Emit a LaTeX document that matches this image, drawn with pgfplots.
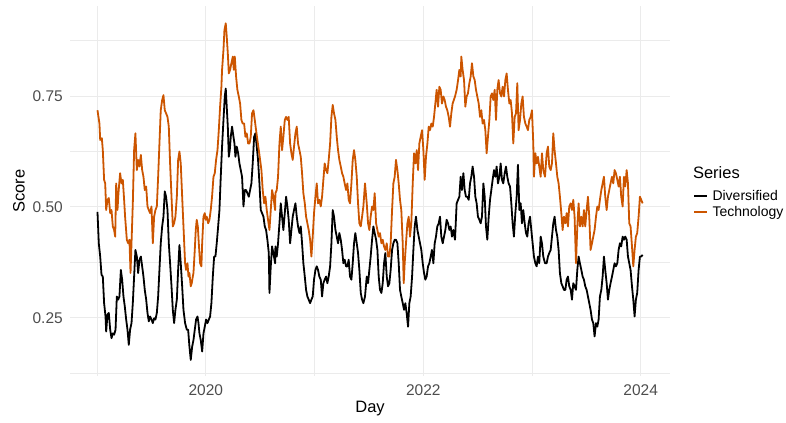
\documentclass[border=0pt]{standalone}
\usepackage{pgfplots}
\pgfplotsset{compat=1.18}
\usepackage{fontspec}
\setmainfont{Liberation Sans}
\definecolor{tech}{HTML}{CC5500}
\definecolor{gridc}{HTML}{EBEBEB}
\definecolor{tickc}{HTML}{4D4D4D}
\begin{document}
\begin{tikzpicture}
\begin{axis}[
  width=600.2pt, height=370pt, scale only axis,
  xmin=2018.75, xmax=2024.27, ymin=0.119, ymax=0.953,
  xtick={2020,2022,2024}, xticklabels={2020,2022,2024},
  minor xtick={2019,2021,2023},
  ytick={0.25,0.5,0.75}, yticklabels={0.25,0.50,0.75},
  minor ytick={0.125,0.375,0.625,0.875},
  grid=both,
  major grid style={gridc, line width=1pt},
  minor grid style={gridc, line width=0.5pt},
  axis line style={draw=none},
  major tick length=0pt, minor tick length=0pt,
  tick style={draw=none},
  xticklabel style={font=\fontsize{15.5}{18}\selectfont, text=tickc, anchor=north, inner sep=0pt, yshift=-9pt},
  yticklabel style={font=\fontsize{15.5}{18}\selectfont, text=tickc, anchor=east, inner sep=0pt, xshift=-7pt},
  xlabel={Day},
  xlabel style={font=\fontsize{16.5}{20}\selectfont, at={(axis description cs:0.5,0)}, anchor=center, yshift=-33pt},
  legend style={draw=none, fill=none, at={(axis description cs:1.0383,0.465)}, anchor=west, inner sep=0pt,
    font=\fontsize{14}{16}\selectfont, row sep=1pt,
    nodes={inner sep=1.5pt},
    /tikz/every odd column/.append style={column sep=3pt}},
  legend cell align=left,
  legend image code/.code={\draw[#1, line width=1.8pt] (0pt,0pt) -- (13pt,0pt);},
  clip=false,
]
\coordinate (SW) at (rel axis cs:0,0);
\coordinate (NE) at (rel axis cs:1,1);
\addplot[black, mark=none, line width=1.8pt, line join=round] coordinates {
(2019.003,0.489)(2019.015,0.418)(2019.028,0.388)(2019.040,0.347)(2019.052,0.343)(2019.064,0.283)(2019.077,0.253)(2019.083,0.219)(2019.095,0.257)(2019.107,0.261)(2019.120,0.223)(2019.132,0.204)(2019.144,0.215)(2019.156,0.212)(2019.169,0.223)(2019.181,0.298)(2019.193,0.291)(2019.205,0.298)(2019.218,0.358)(2019.230,0.336)(2019.242,0.298)(2019.254,0.276)(2019.267,0.246)(2019.279,0.223)(2019.291,0.189)(2019.303,0.223)(2019.316,0.238)(2019.328,0.283)(2019.340,0.343)(2019.352,0.403)(2019.365,0.388)(2019.377,0.351)(2019.389,0.381)(2019.402,0.388)(2019.414,0.366)(2019.426,0.343)(2019.438,0.313)(2019.451,0.291)(2019.463,0.261)(2019.475,0.242)(2019.487,0.253)(2019.500,0.246)(2019.512,0.238)(2019.524,0.249)(2019.536,0.246)(2019.549,0.261)(2019.561,0.298)(2019.573,0.358)(2019.585,0.418)(2019.598,0.456)(2019.610,0.478)(2019.622,0.535)(2019.634,0.523)(2019.647,0.493)(2019.659,0.418)(2019.671,0.373)(2019.684,0.321)(2019.696,0.268)(2019.708,0.238)(2019.720,0.268)(2019.733,0.291)(2019.745,0.358)(2019.757,0.414)(2019.769,0.373)(2019.782,0.321)(2019.794,0.268)(2019.809,0.238)
(2019.825,0.223)(2019.837,0.223)(2019.849,0.185)(2019.861,0.155)(2019.874,0.185)(2019.886,0.200)(2019.898,0.223)(2019.910,0.246)(2019.923,0.253)(2019.932,0.238)(2019.941,0.215)(2019.953,0.200)(2019.966,0.174)(2019.978,0.215)(2019.990,0.230)(2020.002,0.246)(2020.015,0.238)(2020.027,0.246)(2020.039,0.253)(2020.051,0.283)(2020.064,0.343)(2020.076,0.388)(2020.088,0.388)(2020.100,0.418)(2020.113,0.456)(2020.125,0.493)(2020.137,0.568)(2020.149,0.636)(2020.162,0.696)(2020.174,0.749)(2020.183,0.767)(2020.192,0.726)(2020.202,0.681)(2020.211,0.613)(2020.220,0.628)(2020.229,0.658)(2020.241,0.681)(2020.254,0.658)(2020.263,0.643)(2020.272,0.613)(2020.284,0.636)(2020.297,0.621)(2020.309,0.598)(2020.321,0.583)(2020.333,0.568)(2020.346,0.501)(2020.358,0.538)(2020.370,0.538)(2020.382,0.531)(2020.395,0.523)(2020.407,0.538)(2020.419,0.553)(2020.431,0.598)(2020.444,0.658)(2020.456,0.666)(2020.468,0.636)(2020.480,0.606)(2020.493,0.553)(2020.505,0.493)(2020.517,0.486)(2020.530,0.478)(2020.542,0.456)(2020.554,0.448)(2020.566,0.426)(2020.579,0.396)(2020.585,0.306)(2020.597,0.366)(2020.609,0.411)(2020.621,0.396)(2020.637,0.373)
(2020.640,0.411)(2020.652,0.388)(2020.664,0.418)(2020.677,0.463)(2020.689,0.508)(2020.701,0.478)(2020.713,0.448)(2020.726,0.486)(2020.738,0.523)(2020.750,0.501)(2020.762,0.471)(2020.775,0.418)(2020.787,0.448)(2020.799,0.478)(2020.811,0.493)(2020.824,0.508)(2020.836,0.478)(2020.848,0.456)(2020.861,0.441)(2020.873,0.456)(2020.885,0.418)(2020.897,0.373)(2020.910,0.343)(2020.922,0.313)(2020.934,0.298)(2020.946,0.291)(2020.959,0.283)(2020.971,0.291)(2020.983,0.298)(2020.995,0.336)(2021.008,0.358)(2021.020,0.366)(2021.032,0.358)(2021.044,0.343)(2021.057,0.336)(2021.069,0.298)(2021.081,0.328)(2021.093,0.336)(2021.106,0.343)(2021.118,0.328)(2021.130,0.343)(2021.143,0.366)(2021.155,0.418)(2021.167,0.493)(2021.179,0.478)(2021.192,0.448)(2021.204,0.433)(2021.216,0.418)(2021.228,0.441)(2021.241,0.426)(2021.253,0.403)(2021.265,0.373)(2021.277,0.381)(2021.290,0.366)(2021.302,0.366)(2021.314,0.381)(2021.326,0.343)(2021.339,0.336)(2021.351,0.373)(2021.363,0.418)(2021.375,0.441)(2021.388,0.418)(2021.400,0.396)(2021.412,0.358)(2021.425,0.306)(2021.437,0.291)(2021.449,0.283)(2021.464,0.298)
(2021.480,0.343)(2021.492,0.328)(2021.504,0.358)(2021.516,0.388)(2021.529,0.426)(2021.541,0.456)(2021.553,0.441)(2021.566,0.426)(2021.578,0.403)(2021.590,0.343)(2021.602,0.313)(2021.615,0.306)(2021.627,0.328)(2021.639,0.373)(2021.651,0.396)(2021.664,0.343)(2021.676,0.321)(2021.688,0.328)(2021.700,0.358)(2021.713,0.403)(2021.725,0.418)(2021.737,0.426)(2021.749,0.426)(2021.762,0.418)(2021.774,0.373)(2021.786,0.313)(2021.798,0.298)(2021.811,0.283)(2021.823,0.268)(2021.835,0.283)(2021.847,0.261)(2021.860,0.230)(2021.872,0.283)(2021.884,0.298)(2021.897,0.343)(2021.909,0.403)(2021.921,0.456)(2021.933,0.478)(2021.946,0.448)(2021.958,0.433)(2021.970,0.418)(2021.982,0.403)(2021.995,0.373)(2022.007,0.351)(2022.019,0.336)(2022.031,0.343)(2022.044,0.366)(2022.056,0.373)(2022.068,0.388)(2022.080,0.403)(2022.093,0.373)(2022.105,0.418)(2022.117,0.433)(2022.129,0.456)(2022.142,0.463)(2022.154,0.478)(2022.166,0.433)(2022.179,0.418)(2022.191,0.433)(2022.203,0.448)(2022.215,0.471)(2022.228,0.463)(2022.240,0.448)(2022.252,0.456)(2022.264,0.433)(2022.277,0.448)(2022.292,0.426)
(2022.307,0.508)(2022.320,0.516)(2022.332,0.523)(2022.344,0.568)(2022.356,0.538)(2022.369,0.576)(2022.381,0.538)(2022.393,0.523)(2022.405,0.523)(2022.418,0.516)(2022.430,0.553)(2022.442,0.568)(2022.454,0.591)(2022.467,0.568)(2022.479,0.523)(2022.491,0.508)(2022.503,0.478)(2022.516,0.471)(2022.528,0.463)(2022.540,0.478)(2022.553,0.553)(2022.565,0.523)(2022.577,0.456)(2022.589,0.426)(2022.602,0.478)(2022.614,0.516)(2022.626,0.538)(2022.638,0.561)(2022.651,0.583)(2022.663,0.568)(2022.675,0.591)(2022.687,0.553)(2022.700,0.568)(2022.712,0.598)(2022.724,0.561)(2022.736,0.553)(2022.749,0.576)(2022.761,0.591)(2022.773,0.568)(2022.785,0.553)(2022.798,0.546)(2022.810,0.508)(2022.822,0.463)(2022.834,0.433)(2022.847,0.486)(2022.859,0.523)(2022.871,0.595)(2022.884,0.493)(2022.896,0.508)(2022.908,0.463)(2022.920,0.493)(2022.933,0.463)(2022.945,0.441)(2022.957,0.433)(2022.969,0.463)(2022.982,0.478)(2022.994,0.448)(2023.006,0.418)(2023.018,0.388)(2023.031,0.373)(2023.043,0.366)(2023.055,0.388)(2023.067,0.373)(2023.080,0.433)(2023.092,0.418)(2023.104,0.388)(2023.120,0.373)
(2023.135,0.373)(2023.147,0.388)(2023.159,0.396)(2023.172,0.403)(2023.184,0.433)(2023.196,0.463)(2023.208,0.478)(2023.221,0.448)(2023.233,0.433)(2023.245,0.403)(2023.257,0.351)(2023.270,0.328)(2023.282,0.321)(2023.294,0.313)(2023.307,0.313)(2023.319,0.336)(2023.331,0.343)(2023.343,0.321)(2023.356,0.313)(2023.368,0.291)(2023.380,0.328)(2023.392,0.321)(2023.405,0.313)(2023.417,0.358)(2023.429,0.388)(2023.441,0.373)(2023.454,0.358)(2023.466,0.343)(2023.478,0.336)(2023.490,0.321)(2023.503,0.313)(2023.515,0.298)(2023.527,0.283)(2023.539,0.268)(2023.552,0.246)(2023.564,0.238)(2023.576,0.208)(2023.589,0.238)(2023.601,0.230)(2023.613,0.246)(2023.625,0.298)(2023.638,0.313)(2023.650,0.343)(2023.662,0.388)(2023.674,0.358)(2023.687,0.328)(2023.699,0.291)(2023.711,0.313)(2023.723,0.328)(2023.736,0.343)(2023.748,0.358)(2023.760,0.373)(2023.772,0.366)(2023.785,0.373)(2023.797,0.403)(2023.809,0.418)(2023.821,0.411)(2023.834,0.433)(2023.846,0.426)(2023.858,0.433)(2023.871,0.426)(2023.883,0.388)(2023.895,0.373)(2023.907,0.358)(2023.920,0.321)(2023.932,0.291)(2023.944,0.253)(2023.956,0.291)(2023.968,0.306)(2023.981,0.358)(2023.993,0.388)(2024.005,0.388)(2024.018,0.392)
};
\addlegendentry{Diversified}
\addplot[tech, mark=none, line width=1.8pt, line join=round] coordinates {
(2019.003,0.718)(2019.021,0.688)(2019.028,0.651)(2019.043,0.655)(2019.052,0.628)(2019.064,0.561)(2019.074,0.553)(2019.083,0.493)(2019.095,0.516)(2019.107,0.520)(2019.120,0.486)(2019.132,0.493)(2019.144,0.456)(2019.156,0.448)(2019.166,0.433)(2019.175,0.553)(2019.187,0.493)(2019.196,0.531)(2019.211,0.576)(2019.224,0.553)(2019.236,0.561)(2019.248,0.516)(2019.257,0.478)(2019.273,0.426)(2019.285,0.418)(2019.297,0.426)(2019.307,0.351)(2019.316,0.418)(2019.328,0.508)(2019.340,0.628)(2019.352,0.666)(2019.365,0.583)(2019.377,0.606)(2019.389,0.591)(2019.402,0.617)(2019.414,0.583)(2019.426,0.568)(2019.438,0.538)(2019.451,0.546)(2019.463,0.501)(2019.475,0.493)(2019.487,0.486)(2019.500,0.501)(2019.512,0.418)(2019.524,0.478)(2019.536,0.493)(2019.549,0.501)(2019.561,0.568)(2019.573,0.643)(2019.585,0.718)(2019.598,0.741)(2019.610,0.752)(2019.622,0.718)(2019.634,0.711)(2019.647,0.703)(2019.659,0.681)(2019.671,0.598)(2019.684,0.523)(2019.696,0.456)(2019.708,0.463)(2019.720,0.478)(2019.733,0.523)(2019.745,0.606)(2019.757,0.625)(2019.769,0.598)(2019.782,0.523)(2019.794,0.456)(2019.809,0.373)
(2019.818,0.358)(2019.831,0.373)(2019.840,0.343)(2019.849,0.351)(2019.861,0.321)(2019.870,0.328)(2019.880,0.343)(2019.886,0.351)(2019.898,0.403)(2019.907,0.448)(2019.916,0.471)(2019.926,0.456)(2019.935,0.418)(2019.947,0.373)(2019.959,0.366)(2019.966,0.418)(2019.978,0.478)(2019.990,0.486)(2019.999,0.471)(2020.008,0.478)(2020.021,0.463)(2020.033,0.471)(2020.045,0.493)(2020.057,0.523)(2020.070,0.568)(2020.082,0.576)(2020.094,0.606)(2020.107,0.628)(2020.119,0.673)(2020.131,0.726)(2020.143,0.771)(2020.149,0.809)(2020.162,0.854)(2020.171,0.899)(2020.183,0.914)(2020.192,0.884)(2020.202,0.846)(2020.211,0.801)(2020.223,0.809)(2020.235,0.824)(2020.248,0.839)(2020.257,0.809)(2020.266,0.839)(2020.278,0.794)(2020.290,0.764)(2020.303,0.749)(2020.315,0.733)(2020.327,0.696)(2020.339,0.688)(2020.352,0.688)(2020.364,0.658)(2020.376,0.666)(2020.389,0.643)(2020.401,0.643)(2020.413,0.658)(2020.425,0.711)(2020.438,0.718)(2020.450,0.696)(2020.462,0.673)(2020.474,0.651)(2020.487,0.628)(2020.499,0.606)(2020.511,0.583)(2020.523,0.538)(2020.536,0.508)(2020.548,0.523)(2020.560,0.493)(2020.572,0.471)(2020.585,0.448)(2020.597,0.493)(2020.609,0.538)(2020.621,0.523)(2020.637,0.493)
(2020.640,0.531)(2020.652,0.538)(2020.664,0.568)(2020.677,0.643)(2020.689,0.681)(2020.701,0.628)(2020.713,0.658)(2020.726,0.696)(2020.738,0.703)(2020.750,0.696)(2020.762,0.703)(2020.775,0.643)(2020.787,0.621)(2020.799,0.606)(2020.811,0.636)(2020.824,0.666)(2020.836,0.681)(2020.848,0.643)(2020.861,0.628)(2020.873,0.613)(2020.885,0.576)(2020.897,0.531)(2020.910,0.508)(2020.922,0.478)(2020.934,0.463)(2020.946,0.448)(2020.959,0.426)(2020.971,0.388)(2020.983,0.433)(2020.995,0.486)(2021.008,0.523)(2021.020,0.553)(2021.032,0.508)(2021.044,0.516)(2021.057,0.501)(2021.069,0.523)(2021.081,0.561)(2021.093,0.598)(2021.106,0.583)(2021.118,0.576)(2021.130,0.606)(2021.143,0.643)(2021.155,0.703)(2021.167,0.730)(2021.179,0.711)(2021.192,0.696)(2021.204,0.658)(2021.216,0.628)(2021.228,0.606)(2021.241,0.591)(2021.253,0.576)(2021.265,0.568)(2021.277,0.553)(2021.290,0.538)(2021.302,0.553)(2021.314,0.516)(2021.326,0.508)(2021.339,0.553)(2021.351,0.606)(2021.363,0.628)(2021.375,0.606)(2021.388,0.568)(2021.400,0.508)(2021.412,0.463)(2021.425,0.456)(2021.437,0.478)(2021.449,0.501)(2021.464,0.553)
(2021.480,0.508)(2021.492,0.463)(2021.504,0.448)(2021.516,0.478)(2021.529,0.501)(2021.541,0.493)(2021.553,0.531)(2021.566,0.463)(2021.578,0.448)(2021.590,0.433)(2021.602,0.441)(2021.615,0.418)(2021.627,0.426)(2021.639,0.411)(2021.651,0.403)(2021.664,0.418)(2021.676,0.388)(2021.688,0.388)(2021.700,0.418)(2021.713,0.493)(2021.725,0.553)(2021.737,0.568)(2021.749,0.606)(2021.762,0.583)(2021.774,0.553)(2021.786,0.516)(2021.798,0.493)(2021.811,0.418)(2021.820,0.328)(2021.829,0.373)(2021.841,0.418)(2021.854,0.463)(2021.866,0.478)(2021.878,0.433)(2021.890,0.463)(2021.903,0.553)(2021.915,0.621)(2021.927,0.598)(2021.940,0.628)(2021.952,0.583)(2021.964,0.643)(2021.976,0.658)(2021.989,0.673)(2022.001,0.628)(2022.013,0.561)(2022.025,0.613)(2022.038,0.643)(2022.050,0.681)(2022.062,0.673)(2022.074,0.688)(2022.087,0.681)(2022.099,0.703)(2022.111,0.733)(2022.123,0.764)(2022.136,0.726)(2022.148,0.771)(2022.160,0.764)(2022.172,0.733)(2022.185,0.749)(2022.197,0.741)(2022.209,0.726)(2022.221,0.718)(2022.234,0.703)(2022.246,0.681)(2022.258,0.711)(2022.270,0.733)(2022.292,0.749)
(2022.307,0.764)(2022.320,0.786)(2022.332,0.809)(2022.344,0.794)(2022.350,0.839)(2022.362,0.809)(2022.375,0.786)(2022.387,0.726)(2022.399,0.749)(2022.411,0.756)(2022.424,0.779)(2022.436,0.794)(2022.448,0.824)(2022.461,0.794)(2022.473,0.786)(2022.485,0.764)(2022.497,0.749)(2022.510,0.733)(2022.522,0.703)(2022.534,0.718)(2022.546,0.688)(2022.559,0.696)(2022.571,0.673)(2022.583,0.621)(2022.595,0.658)(2022.608,0.696)(2022.620,0.749)(2022.632,0.756)(2022.644,0.741)(2022.657,0.764)(2022.669,0.696)(2022.681,0.764)(2022.693,0.786)(2022.706,0.756)(2022.718,0.749)(2022.730,0.771)(2022.743,0.749)(2022.755,0.786)(2022.767,0.801)(2022.779,0.764)(2022.792,0.733)(2022.804,0.741)(2022.816,0.711)(2022.828,0.643)(2022.841,0.703)(2022.853,0.711)(2022.865,0.779)(2022.877,0.673)(2022.890,0.696)(2022.902,0.733)(2022.914,0.749)(2022.926,0.703)(2022.939,0.688)(2022.951,0.681)(2022.963,0.673)(2022.975,0.696)(2022.988,0.703)(2023.000,0.718)(2023.012,0.643)(2023.018,0.568)(2023.031,0.621)(2023.043,0.598)(2023.055,0.613)(2023.067,0.591)(2023.080,0.568)(2023.092,0.621)(2023.104,0.583)(2023.120,0.568)
(2023.135,0.621)(2023.147,0.636)(2023.159,0.591)(2023.172,0.583)(2023.184,0.598)(2023.196,0.666)(2023.208,0.628)(2023.221,0.598)(2023.233,0.568)(2023.245,0.553)(2023.257,0.523)(2023.270,0.486)(2023.282,0.448)(2023.294,0.478)(2023.307,0.463)(2023.319,0.486)(2023.331,0.456)(2023.343,0.501)(2023.356,0.508)(2023.368,0.493)(2023.380,0.516)(2023.392,0.478)(2023.405,0.373)(2023.417,0.456)(2023.429,0.508)(2023.441,0.456)(2023.454,0.478)(2023.466,0.456)(2023.478,0.493)(2023.490,0.456)(2023.503,0.493)(2023.515,0.523)(2023.527,0.478)(2023.539,0.403)(2023.552,0.418)(2023.564,0.433)(2023.576,0.448)(2023.589,0.478)(2023.601,0.501)(2023.613,0.493)(2023.625,0.516)(2023.638,0.538)(2023.650,0.553)(2023.662,0.568)(2023.674,0.523)(2023.687,0.493)(2023.699,0.523)(2023.711,0.538)(2023.723,0.553)(2023.736,0.568)(2023.748,0.553)(2023.760,0.583)(2023.772,0.576)(2023.785,0.561)(2023.797,0.546)(2023.809,0.568)(2023.821,0.523)(2023.834,0.501)(2023.846,0.568)(2023.858,0.546)(2023.871,0.583)(2023.883,0.553)(2023.895,0.463)(2023.907,0.456)(2023.920,0.411)(2023.932,0.366)(2023.944,0.403)(2023.956,0.433)(2023.968,0.441)(2023.981,0.478)(2023.993,0.523)(2024.005,0.516)(2024.018,0.508)
};
\addlegendentry{Technology}
\end{axis}
\node[font=\fontsize{16.5}{20}\selectfont, anchor=base west, inner sep=0pt] at ([shift={(623pt,197pt)}]SW) {Series};
\node[font=\fontsize{16.5}{20}\selectfont, rotate=90, anchor=center, inner sep=0pt] at ([shift={(-51pt,185pt)}]SW) {Score};
\pgfresetboundingbox
\path ([shift={(-70pt,-47pt)}]SW) rectangle ([shift={(116pt,6pt)}]NE);
\end{tikzpicture}
\end{document}
